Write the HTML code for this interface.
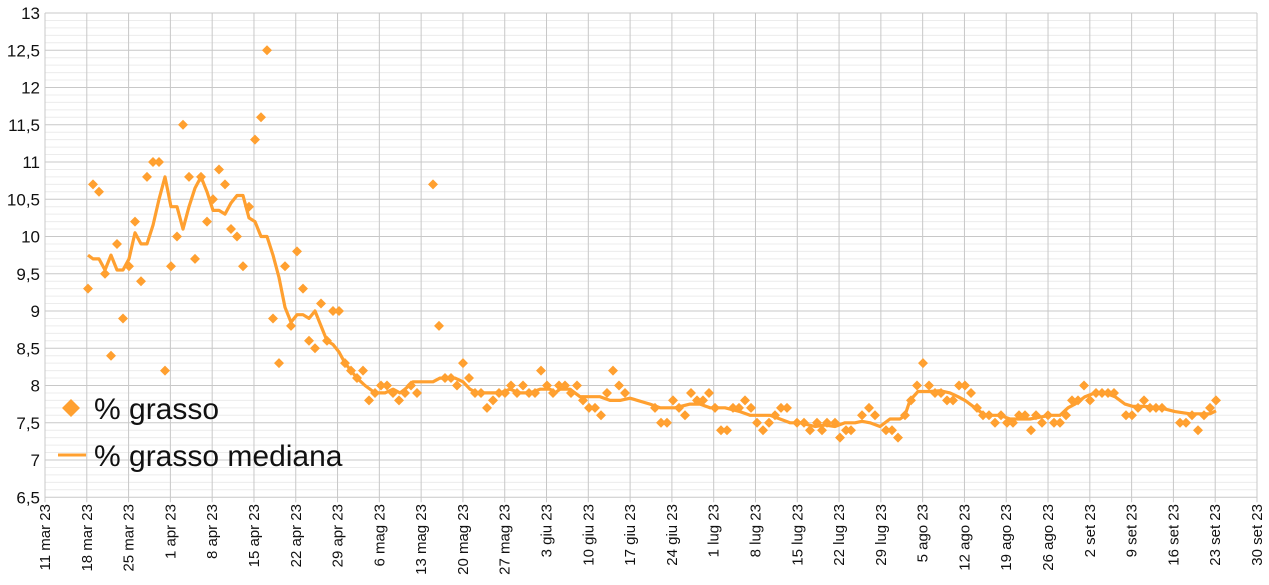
<!DOCTYPE html>
<html><head><meta charset="utf-8"><style>
html,body{margin:0;padding:0;background:#fff;}
svg{display:block;font-family:"Liberation Sans",sans-serif;}
</style></head><body>
<svg id="c" width="1269" height="585" xmlns="http://www.w3.org/2000/svg"></svg>
<script>
const s=document.getElementById('c');let h='';
const X0=45,X1=1257,Y=v=>13+(13-v)*74.5;
for(let i=0;i<=65;i++){const v=6.5+i*0.1;const y=Y(v);const maj=i%5==0;
 h+=`<line x1="${X0}" x2="${X1}" y1="${y}" y2="${y}" stroke="${maj?'#c8c8c8':'#ececec'}" stroke-width="1"/>`;
 if(maj){h+=`<text x="40" y="${y+6}" font-size="17" text-anchor="end" fill="#111">${(Math.round(v*10)/10).toString().replace('.',',')}</text>`;}}
const labs=["11 mar 23","18 mar 23","25 mar 23","1 apr 23","8 apr 23","15 apr 23","22 apr 23","29 apr 23","6 mag 23","13 mag 23","20 mag 23","27 mag 23","3 giu 23","10 giu 23","17 giu 23","24 giu 23","1 lug 23","8 lug 23","15 lug 23","22 lug 23","29 lug 23","5 ago 23","12 ago 23","19 ago 23","26 ago 23","2 set 23","9 set 23","16 set 23","23 set 23","30 set 23"];
labs.forEach((l,i)=>{const x=X0+i*(X1-X0)/29;
 h+=`<line x1="${x}" x2="${x}" y1="13" y2="${Y(6.5)+5}" stroke="#c8c8c8"/>`;
 h+=`<text transform="translate(${x+5},504) rotate(-90)" font-size="15" text-anchor="end" fill="#111">${l}</text>`;});
h+=`<line x1="${X1}" x2="${X1}" y1="13" y2="${Y(6.5)}" stroke="#c8c8c8"/>`;
const pts=[[88,9.3],[93,10.7],[99,10.6],[105,9.5],[111,8.4],[117,9.9],[123,8.9],[129,9.6],[135,10.2],[141,9.4],[147,10.8],[153,11],[159,11],[165,8.2],[171,9.6],[177,10],[183,11.5],[189,10.8],[195,9.7],[201,10.8],[207,10.2],[213,10.5],[219,10.9],[225,10.7],[231,10.1],[237,10],[243,9.6],[249,10.4],[255,11.3],[261,11.6],[267,12.5],[273,8.9],[279,8.3],[285,9.6],[291,8.8],[297,9.8],[303,9.3],[309,8.6],[315,8.5],[321,9.1],[327,8.6],[333,9],[339,9],[345,8.3],[351,8.2],[357,8.1],[363,8.2],[369,7.8],[375,7.9],[381,8],[387,8],[393,7.9],[399,7.8],[405,7.9],[411,8],[417,7.9],[433,10.7],[439,8.8],[445,8.1],[451,8.1],[457,8],[463,8.3],[469,8.1],[475,7.9],[481,7.9],[487,7.7],[493,7.8],[499,7.9],[505,7.9],[511,8],[517,7.9],[523,8],[529,7.9],[535,7.9],[541,8.2],[547,8],[553,7.9],[559,8],[565,8],[571,7.9],[577,8],[583,7.8],[589,7.7],[595,7.7],[601,7.6],[607,7.9],[613,8.2],[619,8],[625,7.9],[655,7.7],[661,7.5],[667,7.5],[673,7.8],[679,7.7],[685,7.6],[691,7.9],[697,7.8],[703,7.8],[709,7.9],[715,7.7],[721,7.4],[727,7.4],[733,7.7],[739,7.7],[745,7.8],[751,7.7],[757,7.5],[763,7.4],[769,7.5],[775,7.6],[781,7.7],[787,7.7],[797,7.5],[804,7.5],[810,7.4],[817,7.5],[822,7.4],[827,7.5],[835,7.5],[840,7.3],[846,7.4],[851,7.4],[862,7.6],[869,7.7],[875,7.6],[886,7.4],[892,7.4],[898,7.3],[905,7.6],[911,7.8],[917,8],[923,8.3],[929,8],[935,7.9],[941,7.9],[947,7.8],[953,7.8],[959,8],[965,8],[971,7.9],[977,7.7],[983,7.6],[989,7.6],[995,7.5],[1001,7.6],[1007,7.5],[1013,7.5],[1019,7.6],[1025,7.6],[1031,7.4],[1036,7.6],[1042,7.5],[1048,7.6],[1054,7.5],[1060,7.5],[1066,7.6],[1072,7.8],[1078,7.8],[1084,8],[1090,7.8],[1096,7.9],[1102,7.9],[1108,7.9],[1114,7.9],[1126,7.6],[1132,7.6],[1138,7.7],[1144,7.8],[1150,7.7],[1156,7.7],[1162,7.7],[1180,7.5],[1186,7.5],[1192,7.6],[1198,7.4],[1204,7.6],[1210,7.7],[1216,7.8]];
const med=[[88,9.75],[93,9.7],[99,9.7],[105,9.55],[111,9.75],[117,9.55],[123,9.55],[129,9.7],[135,10.05],[141,9.9],[147,9.9],[153,10.15],[159,10.5],[165,10.8],[171,10.4],[177,10.4],[183,10.1],[189,10.4],[195,10.65],[201,10.8],[207,10.6],[213,10.35],[219,10.35],[225,10.3],[231,10.45],[237,10.55],[243,10.55],[249,10.25],[255,10.2],[261,10],[267,10],[273,9.75],[279,9.45],[285,9.05],[291,8.85],[297,8.95],[303,8.95],[309,8.9],[315,9],[321,8.8],[327,8.6],[333,8.55],[339,8.45],[345,8.3],[351,8.2],[357,8.1],[365,8.0],[375,7.9],[385,7.9],[393,7.95],[400,7.9],[405,7.95],[413,8.05],[425,8.05],[433,8.05],[440,8.1],[455,8.1],[463,8.05],[470,7.95],[477,7.9],[500,7.9],[510,7.95],[520,7.9],[530,7.9],[540,7.95],[550,7.95],[555,7.9],[560,7.95],[570,7.95],[580,7.85],[600,7.85],[610,7.8],[620,7.8],[630,7.83],[650,7.75],[660,7.7],[675,7.7],[690,7.75],[700,7.75],[710,7.7],[725,7.7],[740,7.65],[750,7.6],[770,7.6],[780,7.55],[790,7.5],[800,7.5],[815,7.45],[825,7.47],[835,7.45],[845,7.5],[855,7.5],[862,7.52],[870,7.5],[880,7.45],[890,7.55],[900,7.55],[905,7.6],[910,7.8],[918,7.92],[930,7.92],[940,7.93],[950,7.9],[958,7.85],[965,7.8],[975,7.7],[985,7.6],[1000,7.6],[1010,7.55],[1030,7.55],[1050,7.6],[1060,7.6],[1068,7.7],[1075,7.75],[1085,7.85],[1095,7.9],[1105,7.9],[1115,7.85],[1125,7.75],[1133,7.72],[1145,7.72],[1160,7.7],[1175,7.65],[1190,7.62],[1210,7.62],[1216,7.66]];
const C='#ffa030';
h+=`<polyline fill="none" stroke="${C}" stroke-width="3.2" stroke-linejoin="round" points="${med.map(p=>p[0]+','+Y(p[1]).toFixed(1)).join(' ')}"/>`;
pts.forEach(p=>{const x=p[0],y=Y(p[1]);h+=`<polygon fill="${C}" points="${x},${y-5} ${x+5},${y} ${x},${y+5} ${x-5},${y}"/>`;});
h+=`<polygon fill="${C}" points="71,399 80,408 71,417 62,408"/>`;
h+=`<text x="94" y="419" font-size="30" fill="#111">% grasso</text>`;
h+=`<line x1="58" x2="86" y1="455" y2="455" stroke="${C}" stroke-width="3"/>`;
h+=`<text x="94" y="466" font-size="30" fill="#111">% grasso mediana</text>`;
s.innerHTML=h;
</script>
</body></html>
